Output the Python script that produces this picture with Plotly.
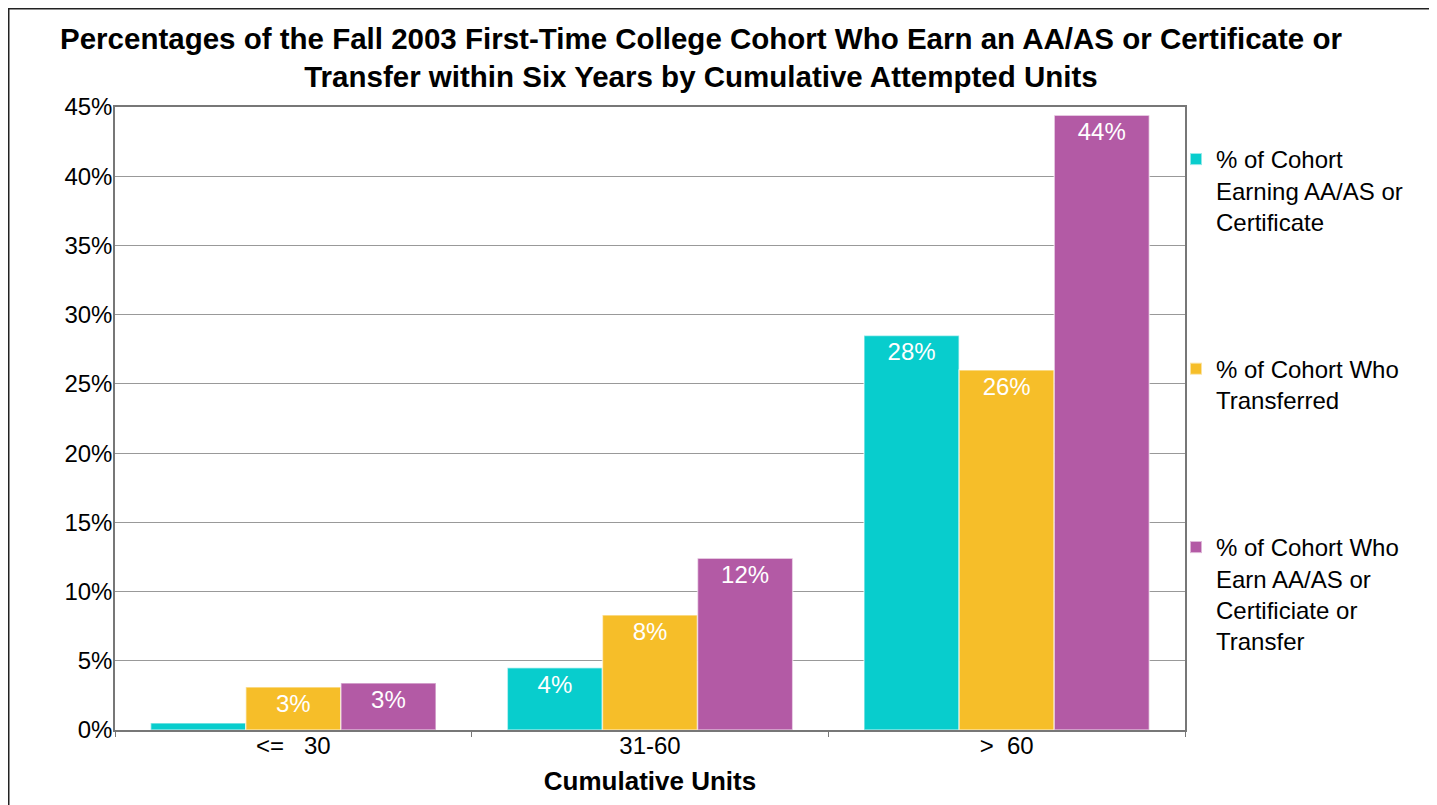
import plotly.graph_objects as go

categories = ["<=   30", "31-60", ">  60"]
earn_award = [0.5, 4.5, 28.5]
transferred = [3.1, 8.3, 26.0]
award_or_transfer = [3.4, 12.4, 44.4]
labels_award = ["0%", "4%", "28%"]
labels_transfer = ["3%", "8%", "26%"]
labels_either = ["3%", "12%", "44%"]
series_names = [
    "% of Cohort<br>Earning AA/AS or<br>Certificate",
    "% of Cohort Who<br>Transferred",
    "% of Cohort Who<br>Earn AA/AS or<br>Certificiate or<br>Transfer",
]
colors = ["#08CDCD", "#F6BE29", "#B35AA5"]
y_ticks = [0, 5, 10, 15, 20, 25, 30, 35, 40, 45]
y_tick_text = [f"{v}%" for v in y_ticks]
title_text = ("<b>Percentages of the Fall 2003 First-Time College Cohort Who Earn an AA/AS or Certificate or<br>"
              "Transfer within Six Years by Cumulative Attempted Units</b>")

FONT = "Liberation Sans, Arial, sans-serif"

# page body has an 8px margin; figure sized to fill the rest of the window
W, H = 1429, 797
L, R, T, B = 107, 252, 99, 75
PW, PH = W - L - R, H - T - B

fig = go.Figure()
for i, (vals, labs) in enumerate([(earn_award, labels_award),
                                  (transferred, labels_transfer),
                                  (award_or_transfer, labels_either)]):
    fig.add_trace(go.Bar(
        x=categories, y=vals, name=series_names[i], legendgroup=f"g{i}",
        text=labs, textposition="inside", insidetextanchor="end",
        constraintext="none",
        textfont=dict(color="white", size=24, family=FONT),
        marker=dict(color=colors[i], line=dict(color="rgba(255,255,255,0.55)", width=1.5)),
        hoverinfo="skip",
    ))

fig.update_layout(
    width=W, height=H,
    barmode="group", bargap=0.2, bargroupgap=0,
    plot_bgcolor="white", paper_bgcolor="white",
    margin=dict(l=L, r=R, t=T, b=B),
    font=dict(family=FONT, color="black", size=24),
    legend=dict(
        x=(1168 - L) / PW, xanchor="left", y=(H - B - 129) / PH, yanchor="top",
        tracegroupgap=113, valign="top",
        font=dict(size=24, family=FONT, color="black"),
        itemsizing="constant", bgcolor="rgba(0,0,0,0)",
    ),
    xaxis=dict(
        showline=True, linecolor="#777777", linewidth=1.5, mirror=True,
        ticks="outside", tickson="boundaries", ticklen=5, tickcolor="#777777",
        ticklabelstandoff=-7,
        tickfont=dict(size=24, family=FONT),
        title=dict(text="<b>Cumulative Units</b>", font=dict(size=26, family=FONT), standoff=14),
    ),
    yaxis=dict(
        range=[0, 45], tickvals=y_ticks, ticktext=y_tick_text,
        showline=True, linecolor="#777777", linewidth=1.5, mirror=True,
        showgrid=True, gridcolor="#999999", gridwidth=1,
        ticks="", ticklabelstandoff=-4,
        tickfont=dict(size=24, family=FONT), zeroline=False,
    ),
    annotations=[dict(
        text=title_text, xref="paper", yref="paper",
        x=(693 - L) / PW, y=(H - B - 12) / PH, xanchor="center", yanchor="top",
        showarrow=False, align="center",
        font=dict(size=29.5, family=FONT, color="black"),
    )],
    shapes=[dict(type="rect", xref="paper", yref="paper",
                 x0=(0.75 - L) / PW, x1=(1427 - L) / PW,
                 y0=(H - B - 830) / PH, y1=(H - B - 0.75) / PH,
                 line=dict(color="#222222", width=1.5), fillcolor="rgba(0,0,0,0)", layer="below")],
)

fig.write_html("out.html")
